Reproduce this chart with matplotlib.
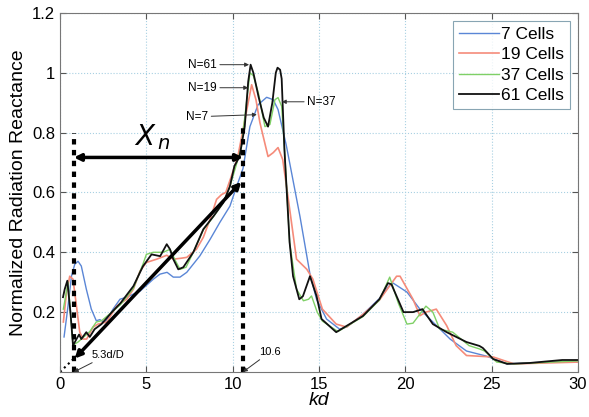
import numpy as np
import matplotlib
matplotlib.use("Agg")
import matplotlib.pyplot as plt

plt.rcParams['font.family'] = ['Liberation Sans', 'DejaVu Sans']

# traced curves (kd, normalized radiation reactance)
kd_7 = [0.23, 0.46, 0.66, 0.85, 1.04, 1.23, 1.52, 1.81, 2.1, 2.3, 2.6, 3.07, 3.47, 3.86, 4.63,
        5.4, 5.79, 6.2, 6.56, 6.95, 7.34, 8.1, 8.69, 9.26, 9.84, 10.23, 10.6, 11.0, 11.47,
        11.97, 12.35, 12.63, 13.1, 13.5, 13.9, 14.48, 14.86, 15.44, 16.2, 16.6, 17.5, 18.5,
        19.1, 19.3, 20.1, 20.85, 21.6, 22.6, 23.55, 24.7, 25.9, 28.2, 30.0]
val_7 = [0.117, 0.22, 0.32, 0.36, 0.37, 0.354, 0.277, 0.21, 0.171, 0.175, 0.165, 0.21, 0.243,
         0.25, 0.27, 0.31, 0.327, 0.333, 0.317, 0.317, 0.333, 0.388, 0.443, 0.5, 0.554, 0.62,
         0.68, 0.82, 0.893, 0.918, 0.91, 0.877, 0.76, 0.64, 0.52, 0.327, 0.243, 0.177, 0.143,
         0.15, 0.19, 0.245, 0.29, 0.297, 0.267, 0.21, 0.167, 0.11, 0.07, 0.053, 0.027, 0.033,
         0.033]

kd_19 = [0.19, 0.37, 0.56, 0.75, 0.95, 1.14, 1.33, 1.54, 1.91, 2.2, 2.7, 3.28, 3.86, 4.25, 4.63,
         5.0, 5.6, 6.18, 6.56, 7.0, 7.34, 7.9, 8.3, 8.69, 9.07, 9.36, 9.6, 9.9, 10.3, 10.7,
         11.1, 11.35, 11.58, 12.05, 12.35, 12.63, 12.9, 13.2, 13.7, 14.3, 14.65, 15.2, 16.0,
         16.6, 17.5, 18.5, 19.5, 19.7, 20.45, 20.85, 21.2, 21.8, 22.4, 22.95, 23.55, 25.1,
         26.3, 30.0]
val_19 = [0.167, 0.265, 0.32, 0.31, 0.22, 0.133, 0.11, 0.11, 0.15, 0.16, 0.167, 0.22, 0.243,
          0.277, 0.337, 0.366, 0.377, 0.39, 0.377, 0.38, 0.383, 0.41, 0.45, 0.51, 0.577,
          0.593, 0.6, 0.65, 0.72, 0.84, 0.96, 0.91, 0.833, 0.72, 0.733, 0.75, 0.71, 0.588,
          0.377, 0.343, 0.31, 0.21, 0.16, 0.15, 0.19, 0.24, 0.32, 0.32, 0.243, 0.188, 0.2,
          0.21, 0.155, 0.088, 0.055, 0.05, 0.027, 0.033]

kd_37 = [0.19, 0.46, 0.6, 0.75, 1.04, 1.43, 1.72, 2.1, 2.4, 3.0, 3.5, 4.25, 4.8, 5.0, 5.4,
         5.98, 6.37, 6.7, 6.95, 7.3, 7.72, 8.3, 8.9, 9.46, 9.84, 10.2, 10.5, 10.8, 11.0, 11.2,
         11.5, 11.87, 12.16, 12.45, 12.63, 12.84, 13.0, 13.3, 13.7, 14.1, 14.4, 14.57, 14.9,
         15.2, 16.1, 17.55, 18.5, 19.1, 19.6, 20.1, 20.45, 21.2, 21.6, 22.0, 22.75, 23.7,
         24.3, 24.6, 25.3, 26.3, 30.0]
val_37 = [0.21, 0.3, 0.2, 0.09, 0.1, 0.12, 0.135, 0.167, 0.171, 0.2, 0.225, 0.28, 0.36, 0.393,
          0.4, 0.4, 0.41, 0.37, 0.343, 0.35, 0.4, 0.475, 0.52, 0.566, 0.62, 0.69, 0.75, 0.9,
          1.0, 0.99, 0.93, 0.82, 0.827, 0.91, 0.917, 0.888, 0.75, 0.433, 0.277, 0.238, 0.243,
          0.254, 0.2, 0.17, 0.135, 0.185, 0.24, 0.317, 0.23, 0.16, 0.163, 0.22, 0.2, 0.143,
          0.133, 0.088, 0.077, 0.07, 0.033, 0.027, 0.037]

kd_61 = [0.17, 0.27, 0.42, 0.6, 0.75, 0.95, 1.1, 1.23, 1.52, 1.72, 2.0, 2.4, 3.0, 3.5, 4.25,
         4.8, 5.3, 5.8, 6.18, 6.37, 6.56, 6.85, 7.14, 7.72, 8.3, 8.88, 9.46, 9.84, 10.1, 10.4,
         10.7, 10.9, 11.04, 11.2, 11.5, 11.8, 12.05, 12.3, 12.5, 12.6, 12.75, 12.84, 13.0,
         13.3, 13.5, 13.86, 14.07, 14.48, 14.86, 15.15, 16.0, 17.55, 18.5, 19.0, 19.2, 19.9,
         20.45, 21.0, 21.6, 22.4, 23.55, 24.3, 24.5, 25.1, 25.9, 27.2, 29.1, 30.0]
val_61 = [0.25, 0.277, 0.305, 0.2, 0.088, 0.11, 0.125, 0.11, 0.133, 0.117, 0.143, 0.16, 0.2,
          0.23, 0.287, 0.353, 0.393, 0.387, 0.427, 0.41, 0.377, 0.343, 0.35, 0.4, 0.477, 0.52,
          0.566, 0.62, 0.688, 0.72, 0.82, 0.97, 1.027, 1.0, 0.92, 0.85, 0.82, 0.9, 1.0, 1.017,
          1.01, 0.98, 0.743, 0.433, 0.32, 0.243, 0.253, 0.32, 0.254, 0.177, 0.133, 0.187,
          0.243, 0.297, 0.293, 0.2, 0.2, 0.21, 0.16, 0.133, 0.1, 0.087, 0.08, 0.043, 0.027,
          0.03, 0.04, 0.04]

series = [("7 Cells", kd_7, val_7, "#5a86d6", 1.0),
          ("19 Cells", kd_19, val_19, "#f58b7a", 1.2),
          ("37 Cells", kd_37, val_37, "#7fd066", 1.0),
          ("61 Cells", kd_61, val_61, "#111111", 1.3)]

x_ticks = [0, 5, 10, 15, 20, 25, 30]
y_ticks = [0.2, 0.4, 0.6, 0.8, 1.0, 1.2]
y_tick_labels = ["0.2", "0.4", "0.6", "0.8", "1", "1.2"]

kd_min = 0.8     # 5.3d/D
kd_max = 10.6

fig = plt.figure(figsize=(5.89, 4.17), dpi=100)
ax = fig.add_axes([0.102, 0.108, 0.879, 0.861])

for label, x, y, c, lw in series:
    ax.plot(x, y, color=c, lw=lw, label=label)

# vertical dashed markers
ax.plot([kd_min, kd_min], [0, 0.8], color="black", lw=3, ls=(0, (1.3, 1.3)))
ax.plot([kd_max, kd_max], [0, 0.82], color="black", lw=3, ls=(0, (1.3, 1.3)))

# X_n span arrow
ax.annotate("", xy=(kd_min, 0.717), xytext=(kd_max, 0.717),
            arrowprops=dict(arrowstyle="<|-|>", lw=2.5, color="black",
                            mutation_scale=10, shrinkA=0, shrinkB=0))
ax.text(5.35, 0.785, r"$X_{\,n}$", fontsize=20, ha="center", va="center")

# slope arrow
ax.annotate("", xy=(0.85, 0.045), xytext=(10.5, 0.635),
            arrowprops=dict(arrowstyle="<|-|>", lw=2.5, color="black",
                            mutation_scale=10, shrinkA=0, shrinkB=0))
ax.plot([0, 0.8], [0, 0.045], color="black", lw=1.5, ls=":")

# small labelled arrows
small = dict(arrowstyle="-|>", lw=0.7, color="#333333", mutation_scale=6,
             shrinkA=0, shrinkB=0)
ax.annotate("5.3d/D", xy=(kd_min, 0.0), xytext=(1.8, 0.057), fontsize=8,
            va="center", ha="left", arrowprops=small)
ax.annotate("10.6", xy=(kd_max, 0.0), xytext=(11.55, 0.067), fontsize=8,
            va="center", ha="left", arrowprops=small)
ax.annotate("N=61", xy=(10.95, 1.027), xytext=(9.1, 1.027), fontsize=8.5,
            va="center", ha="right", arrowprops=small)
ax.annotate("N=19", xy=(10.9, 0.95), xytext=(9.1, 0.95), fontsize=8.5,
            va="center", ha="right", arrowprops=small)
ax.annotate("N=7", xy=(11.4, 0.86), xytext=(8.6, 0.853), fontsize=8.5,
            va="center", ha="right", arrowprops=small)
ax.annotate("N=37", xy=(12.85, 0.903), xytext=(14.3, 0.903), fontsize=8.5,
            va="center", ha="left", arrowprops=small)

ax.set_xlim(0, 30)
ax.set_ylim(0, 1.2)
ax.set_xticks(x_ticks)
ax.set_yticks(y_ticks)
ax.set_yticklabels(y_tick_labels)
ax.tick_params(direction="in", top=True, right=True, labelsize=12, length=4,
               colors="#555555", labelcolor="black")
ax.grid(True, color="#a8d0e2", ls=":", lw=0.8)
for s in ax.spines.values():
    s.set_color("#777777")

ax.set_xlabel("kd", fontsize=14, style="italic", labelpad=0)
ax.set_ylabel("Normalized Radiation Reactance", fontsize=14, labelpad=4)

leg = ax.legend(loc="upper right", fontsize=12.5, frameon=True, fancybox=False,
                handlelength=2.3, handletextpad=0.1, borderpad=0.35,
                labelspacing=0.3, borderaxespad=0.45)
leg.get_frame().set_edgecolor("#6b8fa0")
leg.get_frame().set_linewidth(0.8)

fig.savefig("out.png", dpi=100)
